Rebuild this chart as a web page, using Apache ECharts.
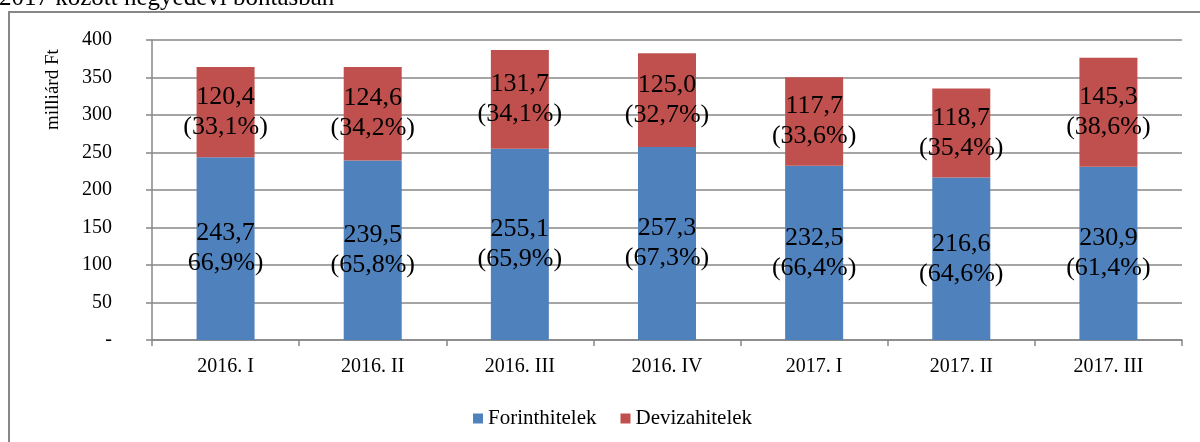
<!DOCTYPE html>
<html>
<head>
<meta charset="utf-8">
<script src="https://cdn.jsdelivr.net/npm/echarts@6/dist/echarts.min.js"></script>
<style>
html,body{margin:0;padding:0;background:#fff;}
#chart{width:1200px;height:442px;}
</style>
</head>
<body>
<div id="chart"></div>
<script>
const categories = ['2016. I', '2016. II', '2016. III', '2016. IV', '2017. I', '2017. II', '2017. III'];
const forintValues = [243.7, 239.5, 255.1, 257.3, 232.5, 216.6, 230.9];
const devizaValues = [120.4, 124.6, 131.7, 125.0, 117.7, 118.7, 145.3];
const forintLabels = ['243,7\n66,9%)', '239,5\n(65,8%)', '255,1\n(65,9%)', '257,3\n(67,3%)', '232,5\n(66,4%)', '216,6\n(64,6%)', '230,9\n(61,4%)'];
const devizaLabels = ['120,4\n(33,1%)', '124,6\n(34,2%)', '131,7\n(34,1%)', '125,0\n(32,7%)', '117,7\n(33,6%)', '118,7\n(35,4%)', '145,3\n(38,6%)'];
const yTicks = [0, 50, 100, 150, 200, 250, 300, 350, 400];

const FONT = '"Liberation Serif", "DejaVu Serif", serif';
const GRID_COLOR = '#878787';

const chart = echarts.init(document.getElementById('chart'), null, {renderer: 'canvas'});

const labelStyle = {
  show: true,
  position: 'inside',
  color: '#000',
  fontFamily: FONT,
  fontSize: 26,
  lineHeight: 30,
  textBorderWidth: 0
};

chart.setOption({
  animation: false,
  backgroundColor: '#fff',
  graphic: [
    {
      type: 'rect',
      shape: {x: 9, y: 12, width: 1300, height: 500},
      style: {fill: 'none', stroke: '#878787', lineWidth: 2},
      silent: true,
      z: -1
    },
    {
      type: 'text',
      left: -1,
      top: -14,
      style: {text: '2017 között negyedévi bontásban', fontFamily: FONT, fontSize: 25, fill: '#000'}
    },
    {
      type: 'text',
      x: 53,
      y: 130,
      rotation: Math.PI / 2,
      style: {text: 'milliárd Ft', fontFamily: FONT, fontSize: 19, fill: '#000', textAlign: 'left', textVerticalAlign: 'middle'}
    }
  ],
  grid: {left: 152, right: 18, top: 40, bottom: 102, containLabel: false},
  legend: {
    left: 468,
    top: 403,
    itemWidth: 10,
    itemHeight: 10,
    itemGap: 24,
    icon: 'rect',
    textStyle: {fontFamily: FONT, fontSize: 21, color: '#000'},
    data: ['Forinthitelek', 'Devizahitelek']
  },
  xAxis: {
    type: 'category',
    data: categories,
    axisLine: {lineStyle: {color: GRID_COLOR, width: 1.5}},
    axisTick: {show: true, length: 6, lineStyle: {color: GRID_COLOR, width: 1.5}},
    axisLabel: {fontFamily: FONT, fontSize: 20, color: '#000', margin: 17}
  },
  yAxis: {
    type: 'value',
    min: 0,
    max: 400,
    interval: 50,
    axisLine: {show: true, lineStyle: {color: GRID_COLOR, width: 1.5}},
    axisTick: {show: true, length: 6, lineStyle: {color: GRID_COLOR, width: 1.5}},
    splitLine: {show: true, lineStyle: {color: GRID_COLOR, width: 1.5}},
    axisLabel: {
      fontFamily: FONT, fontSize: 20, color: '#000', margin: 40,
      formatter: v => (v === yTicks[0] ? '-' : String(v))
    }
  },
  series: [
    {
      name: 'Forinthitelek',
      type: 'bar',
      stack: 'total',
      barWidth: 58,
      itemStyle: {color: '#4f81bd'},
      label: Object.assign({}, labelStyle, {formatter: p => forintLabels[p.dataIndex]}),
      data: forintValues
    },
    {
      name: 'Devizahitelek',
      type: 'bar',
      stack: 'total',
      barWidth: 58,
      itemStyle: {color: '#c0504d'},
      label: Object.assign({}, labelStyle, {formatter: p => devizaLabels[p.dataIndex]}),
      data: devizaValues
    }
  ]
});
</script>
</body>
</html>
